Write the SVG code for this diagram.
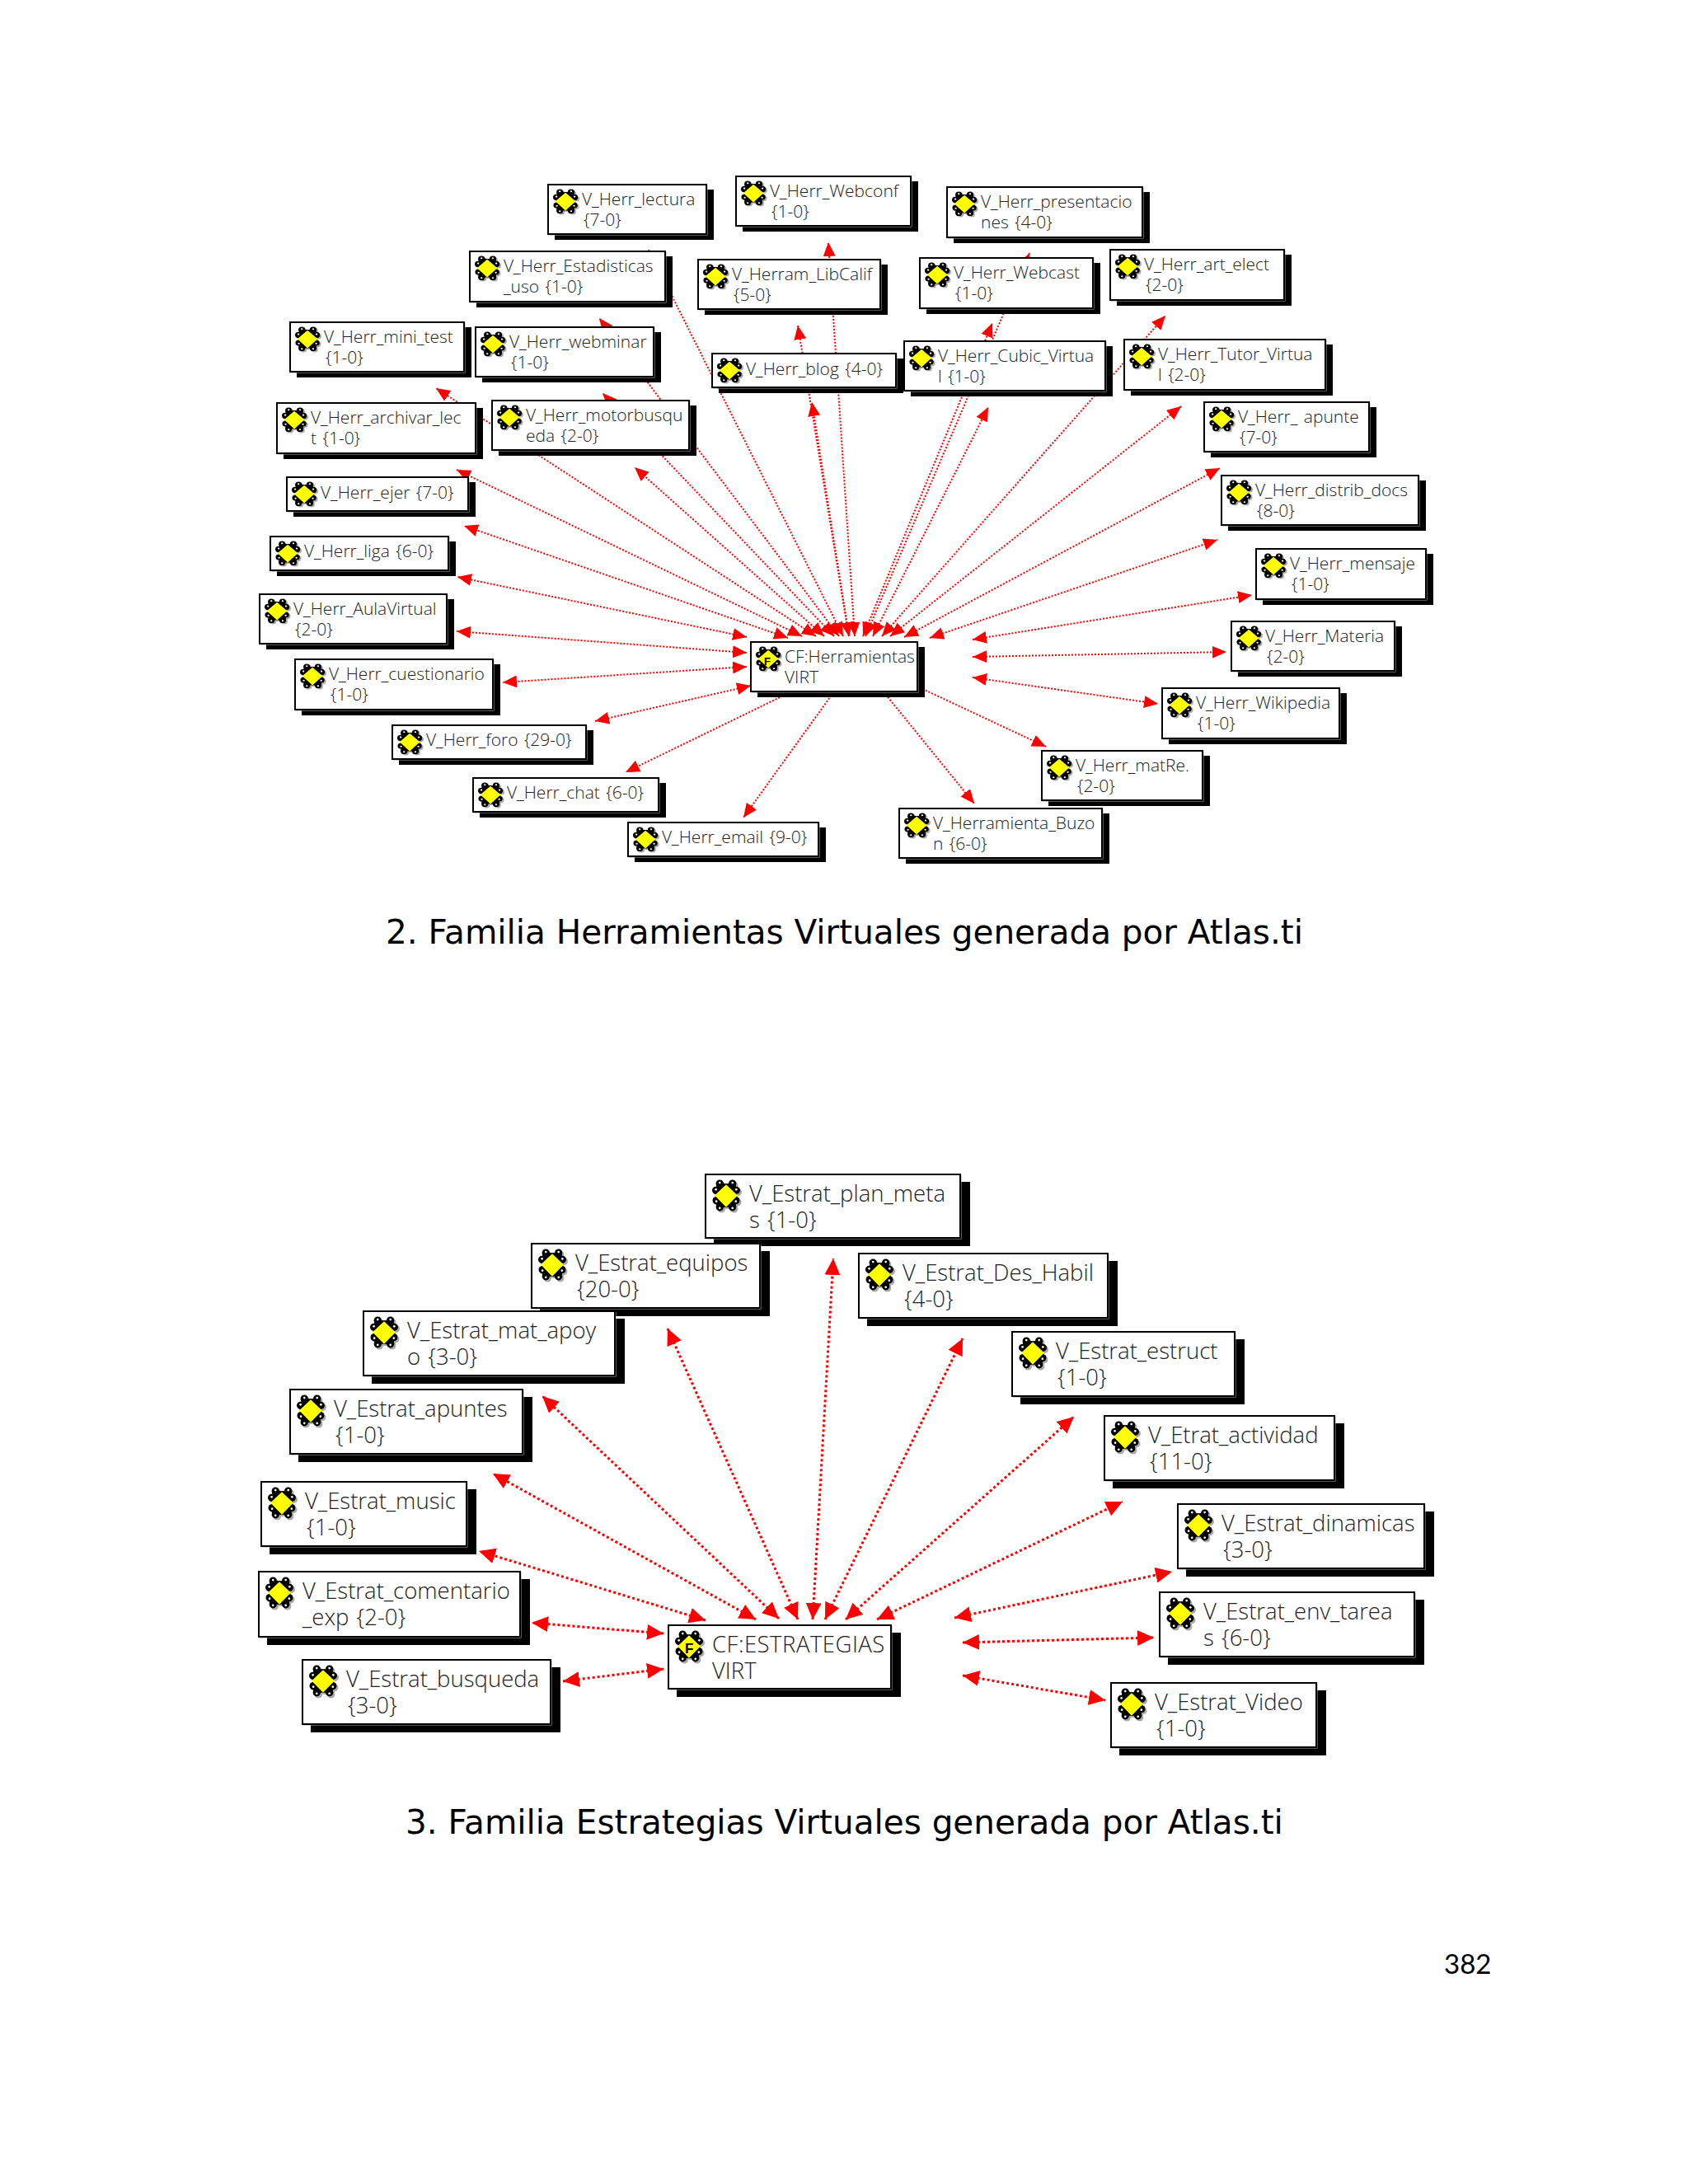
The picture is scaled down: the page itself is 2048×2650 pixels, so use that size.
<svg xmlns="http://www.w3.org/2000/svg" width="2048" height="2650" viewBox="0 0 2048 2650">
<style>
text{fill:#222;font-family:"Open Sans","Noto Sans","Liberation Sans",sans-serif;font-weight:300}
.t1{font-size:21px;word-spacing:2px}.t2{font-size:27.5px;word-spacing:2px}
.cap{font-family:"DejaVu Sans",sans-serif;font-size:40.5px;fill:#000;font-weight:400;word-spacing:0}
.pg{font-family:Lato,"Liberation Sans",sans-serif;font-size:33px;fill:#000;font-weight:400}
.s{fill:#000}.g{fill:#fff;stroke:#aaa;stroke-width:1}.b{fill:#fff;stroke:#000;stroke-width:2}
.f{font-family:"Liberation Sans",sans-serif;font-weight:700;fill:#000}
line{stroke:#f00;fill:none}
.l1{stroke-width:2;stroke-dasharray:2 2;marker-start:url(#a1);marker-end:url(#a1)}
.l2{stroke-width:3;stroke-dasharray:3 3;marker-start:url(#a2);marker-end:url(#a2)}
</style>
<defs>
<marker id="a1" markerUnits="userSpaceOnUse" markerWidth="18" markerHeight="16" refX="17" refY="7.5" orient="auto-start-reverse"><path d="M0 0L17 7.5L0 15Z" fill="#f00"/></marker>
<marker id="a2" markerUnits="userSpaceOnUse" markerWidth="21" markerHeight="20" refX="20" refY="9.5" orient="auto-start-reverse"><path d="M0 0L20 9.5L0 19Z" fill="#f00"/></marker>
<g id="bl">
<circle cx="9" cy="5" r="4.5"/><circle cx="24" cy="5" r="4.5"/><circle cx="4.5" cy="13" r="4.5"/><circle cx="28.5" cy="13" r="4.5"/><circle cx="5" cy="25" r="4.5"/><circle cx="28" cy="25" r="4.5"/><circle cx="9" cy="33" r="4.5"/><circle cx="24" cy="33" r="4.5"/><rect x="5" y="5" width="23" height="28"/>
</g>
<g id="ic">
<use href="#bl" x="2" y="2" fill="#aaa"/>
<use href="#bl" fill="#000"/>
<g fill="#fff"><circle cx="9" cy="4" r="1.3"/><circle cx="24" cy="4" r="1.3"/><circle cx="4.5" cy="12" r="1.3"/><circle cx="28.5" cy="12" r="1.3"/><circle cx="5" cy="26" r="1.3"/><circle cx="28" cy="26" r="1.3"/><circle cx="9" cy="34" r="1.3"/><circle cx="24" cy="34" r="1.3"/></g>
<path d="M16.5 6L30 19L16.5 33L3 19Z" fill="#ff0"/>
</g>
<symbol id="i1" viewBox="0 0 35 40" width="32" height="32" preserveAspectRatio="none"><use href="#ic"/></symbol>
<symbol id="i2" viewBox="0 0 35 40" width="36" height="41" preserveAspectRatio="none"><use href="#ic"/></symbol>
</defs>
<rect width="2048" height="2650" fill="#fff"/>
<g id="connectors">
<line class="l1" x1="1023" y1="772" x2="787" y2="303"/>
<line class="l1" x1="1037" y1="772" x2="1005" y2="294"/>
<line class="l1" x1="1050" y1="772" x2="1249" y2="307"/>
<line class="l1" x1="1018" y1="772" x2="727" y2="386"/>
<line class="l1" x1="1030" y1="772" x2="968" y2="395"/>
<line class="l1" x1="1047" y1="772" x2="1204" y2="392"/>
<line class="l1" x1="1070" y1="772" x2="1414" y2="383"/>
<line class="l1" x1="1012" y1="772" x2="731" y2="477"/>
<line class="l1" x1="1030" y1="772" x2="985" y2="488"/>
<line class="l1" x1="1059" y1="772" x2="1199" y2="494"/>
<line class="l1" x1="1080" y1="772" x2="1433" y2="493"/>
<line class="l1" x1="990" y1="772" x2="529" y2="471"/>
<line class="l1" x1="1000" y1="772" x2="770" y2="567"/>
<line class="l1" x1="1097" y1="773" x2="1480" y2="568"/>
<line class="l1" x1="973" y1="772" x2="554" y2="570"/>
<line class="l1" x1="956" y1="774" x2="563" y2="638"/>
<line class="l1" x1="906" y1="773" x2="555" y2="700"/>
<line class="l1" x1="906" y1="792" x2="554" y2="766"/>
<line class="l1" x1="906" y1="809" x2="610" y2="828"/>
<line class="l1" x1="911" y1="832" x2="722" y2="875"/>
<line class="l1" x1="1000" y1="820" x2="759" y2="937"/>
<line class="l1" x1="1025" y1="821" x2="902" y2="992"/>
<line class="l1" x1="1057" y1="821" x2="1182" y2="975"/>
<line class="l1" x1="1083" y1="819" x2="1269" y2="906"/>
<line class="l1" x1="1180" y1="822" x2="1405" y2="854"/>
<line class="l1" x1="1180" y1="797" x2="1488" y2="791"/>
<line class="l1" x1="1180" y1="776" x2="1519" y2="722"/>
<line class="l1" x1="1128" y1="774" x2="1477" y2="655"/>
<line class="l2" x1="986" y1="1965" x2="1011" y2="1527"/>
<line class="l2" x1="968" y1="1965" x2="810" y2="1612"/>
<line class="l2" x1="945" y1="1964" x2="658" y2="1694"/>
<line class="l2" x1="917" y1="1965" x2="598" y2="1788"/>
<line class="l2" x1="856" y1="1966" x2="581" y2="1882"/>
<line class="l2" x1="805" y1="1982" x2="645" y2="1969"/>
<line class="l2" x1="805" y1="2025" x2="683" y2="2040"/>
<line class="l2" x1="1001" y1="1965" x2="1168" y2="1624"/>
<line class="l2" x1="1026" y1="1965" x2="1303" y2="1719"/>
<line class="l2" x1="1064" y1="1965" x2="1362" y2="1822"/>
<line class="l2" x1="1158" y1="1963" x2="1422" y2="1907"/>
<line class="l2" x1="1168" y1="1993" x2="1400" y2="1987"/>
<line class="l2" x1="1168" y1="2033" x2="1341" y2="2063"/>
</g>
<g id="n-lectura"><rect class="s" x="673" y="230" width="193" height="61"/><rect class="g" x="666" y="225" width="192" height="60"/><rect class="b" x="665" y="224" width="192" height="60"/><use href="#i1" x="671" y="229"/><text class="t1" x="706" y="249">V_Herr_lectura</text><text class="t1" x="708" y="274">{7-0}</text></g>
<g id="n-webconf"><rect class="s" x="901" y="220" width="213" height="61"/><rect class="g" x="894" y="215" width="212" height="60"/><rect class="b" x="893" y="214" width="212" height="60"/><use href="#i1" x="899" y="219"/><text class="t1" x="934" y="239">V_Herr_Webconf</text><text class="t1" x="936" y="264">{1-0}</text></g>
<g id="n-presentaciones"><rect class="s" x="1157" y="233" width="238" height="62"/><rect class="g" x="1150" y="228" width="237" height="61"/><rect class="b" x="1149" y="227" width="237" height="61"/><use href="#i1" x="1155" y="232"/><text class="t1" x="1190" y="252">V_Herr_presentacio</text><text class="t1" x="1190" y="277">nes {4-0}</text></g>
<g id="n-estadisticas"><rect class="s" x="578" y="311" width="238" height="62"/><rect class="g" x="571" y="306" width="237" height="61"/><rect class="b" x="570" y="305" width="237" height="61"/><use href="#i1" x="576" y="310"/><text class="t1" x="611" y="330">V_Herr_Estadisticas</text><text class="t1" x="611" y="355">_uso {1-0}</text></g>
<g id="n-libcalif"><rect class="s" x="855" y="321" width="222" height="61"/><rect class="g" x="848" y="316" width="221" height="60"/><rect class="b" x="847" y="315" width="221" height="60"/><use href="#i1" x="853" y="320"/><text class="t1" x="888" y="340">V_Herram_LibCalif</text><text class="t1" x="890" y="365">{5-0}</text></g>
<g id="n-webcast"><rect class="s" x="1124" y="319" width="211" height="62"/><rect class="g" x="1117" y="314" width="210" height="61"/><rect class="b" x="1116" y="313" width="210" height="61"/><use href="#i1" x="1122" y="318"/><text class="t1" x="1157" y="338">V_Herr_Webcast</text><text class="t1" x="1159" y="363">{1-0}</text></g>
<g id="n-art_elect"><rect class="s" x="1355" y="309" width="212" height="62"/><rect class="g" x="1348" y="304" width="211" height="61"/><rect class="b" x="1347" y="303" width="211" height="61"/><use href="#i1" x="1353" y="308"/><text class="t1" x="1388" y="328">V_Herr_art_elect</text><text class="t1" x="1390" y="353">{2-0}</text></g>
<g id="n-mini_test"><rect class="s" x="360" y="397" width="212" height="61"/><rect class="g" x="353" y="392" width="211" height="60"/><rect class="b" x="352" y="391" width="211" height="60"/><use href="#i1" x="358" y="396"/><text class="t1" x="393" y="416">V_Herr_mini_test</text><text class="t1" x="395" y="441">{1-0}</text></g>
<g id="n-webminar"><rect class="s" x="585" y="403" width="217" height="61"/><rect class="g" x="578" y="398" width="216" height="60"/><rect class="b" x="577" y="397" width="216" height="60"/><use href="#i1" x="583" y="402"/><text class="t1" x="618" y="422">V_Herr_webminar</text><text class="t1" x="620" y="447">{1-0}</text></g>
<g id="n-blog"><rect class="s" x="872" y="435" width="224" height="42"/><rect class="g" x="865" y="430" width="223" height="41"/><rect class="b" x="864" y="429" width="223" height="41"/><use href="#i1" x="870" y="434"/><text class="t1" x="905" y="455">V_Herr_blog {4-0}</text></g>
<g id="n-cubic"><rect class="s" x="1105" y="420" width="245" height="61"/><rect class="g" x="1098" y="415" width="244" height="60"/><rect class="b" x="1097" y="414" width="244" height="60"/><use href="#i1" x="1103" y="419"/><text class="t1" x="1138" y="439">V_Herr_Cubic_Virtua</text><text class="t1" x="1138" y="464">l {1-0}</text></g>
<g id="n-tutor"><rect class="s" x="1372" y="418" width="245" height="62"/><rect class="g" x="1365" y="413" width="244" height="61"/><rect class="b" x="1364" y="412" width="244" height="61"/><use href="#i1" x="1370" y="417"/><text class="t1" x="1405" y="437">V_Herr_Tutor_Virtua</text><text class="t1" x="1405" y="462">l {2-0}</text></g>
<g id="n-archivar"><rect class="s" x="344" y="495" width="242" height="62"/><rect class="g" x="337" y="490" width="241" height="61"/><rect class="b" x="336" y="489" width="241" height="61"/><use href="#i1" x="342" y="494"/><text class="t1" x="377" y="514">V_Herr_archivar_lec</text><text class="t1" x="377" y="539">t {1-0}</text></g>
<g id="n-motorbusqueda"><rect class="s" x="605" y="492" width="240" height="61"/><rect class="g" x="598" y="487" width="239" height="60"/><rect class="b" x="597" y="486" width="239" height="60"/><use href="#i1" x="603" y="491"/><text class="t1" x="638" y="511">V_Herr_motorbusqu</text><text class="t1" x="638" y="536">eda {2-0}</text></g>
<g id="n-apunte"><rect class="s" x="1469" y="494" width="201" height="61"/><rect class="g" x="1462" y="489" width="200" height="60"/><rect class="b" x="1461" y="488" width="200" height="60"/><use href="#i1" x="1467" y="493"/><text class="t1" x="1502" y="513">V_Herr_ apunte</text><text class="t1" x="1504" y="538">{7-0}</text></g>
<g id="n-distrib"><rect class="s" x="1490" y="583" width="240" height="61"/><rect class="g" x="1483" y="578" width="239" height="60"/><rect class="b" x="1482" y="577" width="239" height="60"/><use href="#i1" x="1488" y="582"/><text class="t1" x="1523" y="602">V_Herr_distrib_docs</text><text class="t1" x="1525" y="627">{8-0}</text></g>
<g id="n-ejer"><rect class="s" x="356" y="585" width="221" height="42"/><rect class="g" x="349" y="580" width="220" height="41"/><rect class="b" x="348" y="579" width="220" height="41"/><use href="#i1" x="354" y="584"/><text class="t1" x="389" y="605">V_Herr_ejer {7-0}</text></g>
<g id="n-liga"><rect class="s" x="336" y="657" width="217" height="42"/><rect class="g" x="329" y="652" width="216" height="41"/><rect class="b" x="328" y="651" width="216" height="41"/><use href="#i1" x="334" y="656"/><text class="t1" x="369" y="676">V_Herr_liga {6-0}</text></g>
<g id="n-aula"><rect class="s" x="323" y="727" width="228" height="61"/><rect class="g" x="316" y="722" width="227" height="60"/><rect class="b" x="315" y="721" width="227" height="60"/><use href="#i1" x="321" y="726"/><text class="t1" x="356" y="746">V_Herr_AulaVirtual</text><text class="t1" x="358" y="771">{2-0}</text></g>
<g id="n-cuestionario"><rect class="s" x="366" y="806" width="241" height="62"/><rect class="g" x="359" y="801" width="240" height="61"/><rect class="b" x="358" y="800" width="240" height="61"/><use href="#i1" x="364" y="805"/><text class="t1" x="399" y="825">V_Herr_cuestionario</text><text class="t1" x="401" y="850">{1-0}</text></g>
<g id="n-foro"><rect class="s" x="484" y="886" width="236" height="42"/><rect class="g" x="477" y="881" width="235" height="41"/><rect class="b" x="476" y="880" width="235" height="41"/><use href="#i1" x="482" y="885"/><text class="t1" x="517" y="905">V_Herr_foro {29-0}</text></g>
<g id="n-chat"><rect class="s" x="582" y="950" width="226" height="42"/><rect class="g" x="575" y="945" width="225" height="41"/><rect class="b" x="574" y="944" width="225" height="41"/><use href="#i1" x="580" y="949"/><text class="t1" x="615" y="969">V_Herr_chat {6-0}</text></g>
<g id="n-email"><rect class="s" x="770" y="1004" width="232" height="42"/><rect class="g" x="763" y="999" width="231" height="41"/><rect class="b" x="762" y="998" width="231" height="41"/><use href="#i1" x="768" y="1003"/><text class="t1" x="803" y="1023">V_Herr_email {9-0}</text></g>
<g id="n-cf-herramientas"><rect class="s" x="919" y="785" width="203" height="61"/><rect class="g" x="912" y="780" width="202" height="60"/><rect class="b" x="911" y="779" width="202" height="60"/><use href="#i1" x="917" y="784"/><text class="f" x="927" y="807" font-size="13">F</text><text class="t1" x="952" y="804">CF:Herramientas</text><text class="t1" x="952" y="829">VIRT</text></g>
<g id="n-mensaje"><rect class="s" x="1532" y="672" width="207" height="62"/><rect class="g" x="1525" y="667" width="206" height="61"/><rect class="b" x="1524" y="666" width="206" height="61"/><use href="#i1" x="1530" y="671"/><text class="t1" x="1565" y="691">V_Herr_mensaje</text><text class="t1" x="1567" y="716">{1-0}</text></g>
<g id="n-materia"><rect class="s" x="1502" y="760" width="199" height="61"/><rect class="g" x="1495" y="755" width="198" height="60"/><rect class="b" x="1494" y="754" width="198" height="60"/><use href="#i1" x="1500" y="759"/><text class="t1" x="1535" y="779">V_Herr_Materia</text><text class="t1" x="1537" y="804">{2-0}</text></g>
<g id="n-wikipedia"><rect class="s" x="1418" y="841" width="216" height="62"/><rect class="g" x="1411" y="836" width="215" height="61"/><rect class="b" x="1410" y="835" width="215" height="61"/><use href="#i1" x="1416" y="840"/><text class="t1" x="1451" y="860">V_Herr_Wikipedia</text><text class="t1" x="1453" y="885">{1-0}</text></g>
<g id="n-matre"><rect class="s" x="1272" y="917" width="196" height="61"/><rect class="g" x="1265" y="912" width="195" height="60"/><rect class="b" x="1264" y="911" width="195" height="60"/><use href="#i1" x="1270" y="916"/><text class="t1" x="1305" y="936">V_Herr_matRe.</text><text class="t1" x="1307" y="961">{2-0}</text></g>
<g id="n-buzon"><rect class="s" x="1099" y="987" width="247" height="61"/><rect class="g" x="1092" y="982" width="246" height="60"/><rect class="b" x="1091" y="981" width="246" height="60"/><use href="#i1" x="1097" y="986"/><text class="t1" x="1132" y="1006">V_Herramienta_Buzo</text><text class="t1" x="1132" y="1031">n {6-0}</text></g>
<text id="caption-2" class="cap" x="468" y="1145">2. Familia Herramientas Virtuales generada por Atlas.ti</text>
<g id="n-plan_meta"><rect class="s" x="866" y="1434" width="311" height="78"/><rect class="g" x="857" y="1426" width="309" height="77"/><rect class="b" x="856" y="1425" width="309" height="77"/><use href="#i2" x="864" y="1431"/><text class="t2" x="909" y="1458">V_Estrat_plan_meta</text><text class="t2" x="909" y="1490">s {1-0}</text></g>
<g id="n-equipos"><rect class="s" x="655" y="1518" width="279" height="79"/><rect class="g" x="646" y="1510" width="277" height="78"/><rect class="b" x="645" y="1509" width="277" height="78"/><use href="#i2" x="653" y="1515"/><text class="t2" x="698" y="1542">V_Estrat_equipos</text><text class="t2" x="700" y="1574">{20-0}</text></g>
<g id="n-des_habil"><rect class="s" x="1052" y="1530" width="304" height="79"/><rect class="g" x="1043" y="1522" width="302" height="78"/><rect class="b" x="1042" y="1521" width="302" height="78"/><use href="#i2" x="1050" y="1527"/><text class="t2" x="1095" y="1554">V_Estrat_Des_Habil</text><text class="t2" x="1097" y="1586">{4-0}</text></g>
<g id="n-mat_apoy"><rect class="s" x="451" y="1600" width="307" height="79"/><rect class="g" x="442" y="1592" width="305" height="78"/><rect class="b" x="441" y="1591" width="305" height="78"/><use href="#i2" x="449" y="1597"/><text class="t2" x="494" y="1624">V_Estrat_mat_apoy</text><text class="t2" x="494" y="1656">o {3-0}</text></g>
<g id="n-estruct"><rect class="s" x="1238" y="1625" width="272" height="79"/><rect class="g" x="1229" y="1617" width="270" height="78"/><rect class="b" x="1228" y="1616" width="270" height="78"/><use href="#i2" x="1236" y="1622"/><text class="t2" x="1281" y="1649">V_Estrat_estruct</text><text class="t2" x="1283" y="1681">{1-0}</text></g>
<g id="n-apuntes"><rect class="s" x="362" y="1695" width="284" height="79"/><rect class="g" x="353" y="1687" width="282" height="78"/><rect class="b" x="352" y="1686" width="282" height="78"/><use href="#i2" x="360" y="1692"/><text class="t2" x="405" y="1719">V_Estrat_apuntes</text><text class="t2" x="407" y="1751">{1-0}</text></g>
<g id="n-actividad"><rect class="s" x="1350" y="1727" width="281" height="79"/><rect class="g" x="1341" y="1719" width="279" height="78"/><rect class="b" x="1340" y="1718" width="279" height="78"/><use href="#i2" x="1348" y="1724"/><text class="t2" x="1393" y="1751">V_Etrat_actividad</text><text class="t2" x="1395" y="1783">{11-0}</text></g>
<g id="n-music"><rect class="s" x="327" y="1807" width="251" height="79"/><rect class="g" x="318" y="1799" width="249" height="78"/><rect class="b" x="317" y="1798" width="249" height="78"/><use href="#i2" x="325" y="1804"/><text class="t2" x="370" y="1831">V_Estrat_music</text><text class="t2" x="372" y="1863">{1-0}</text></g>
<g id="n-dinamicas"><rect class="s" x="1439" y="1834" width="301" height="79"/><rect class="g" x="1430" y="1826" width="299" height="78"/><rect class="b" x="1429" y="1825" width="299" height="78"/><use href="#i2" x="1437" y="1831"/><text class="t2" x="1482" y="1858">V_Estrat_dinamicas</text><text class="t2" x="1484" y="1890">{3-0}</text></g>
<g id="n-comentario"><rect class="s" x="324" y="1916" width="319" height="80"/><rect class="g" x="315" y="1908" width="317" height="79"/><rect class="b" x="314" y="1907" width="317" height="79"/><use href="#i2" x="322" y="1913"/><text class="t2" x="367" y="1940">V_Estrat_comentario</text><text class="t2" x="367" y="1972">_exp {2-0}</text></g>
<g id="n-env_tarea"><rect class="s" x="1417" y="1941" width="311" height="79"/><rect class="g" x="1408" y="1933" width="309" height="78"/><rect class="b" x="1407" y="1932" width="309" height="78"/><use href="#i2" x="1415" y="1938"/><text class="t2" x="1460" y="1965">V_Estrat_env_tarea</text><text class="t2" x="1460" y="1997">s {6-0}</text></g>
<g id="n-cf-estrategias"><rect class="s" x="821" y="1981" width="272" height="78"/><rect class="g" x="812" y="1973" width="270" height="77"/><rect class="b" x="811" y="1972" width="270" height="77"/><use href="#i2" x="819" y="1978"/><text class="f" x="831" y="2006" font-size="17">F</text><text class="t2" x="864" y="2005" letter-spacing=".5">CF:ESTRATEGIAS</text><text class="t2" x="864" y="2037">VIRT</text></g>
<g id="n-busqueda"><rect class="s" x="377" y="2023" width="303" height="79"/><rect class="g" x="368" y="2015" width="301" height="78"/><rect class="b" x="367" y="2014" width="301" height="78"/><use href="#i2" x="375" y="2020"/><text class="t2" x="420" y="2047">V_Estrat_busqueda</text><text class="t2" x="422" y="2079">{3-0}</text></g>
<g id="n-video"><rect class="s" x="1358" y="2051" width="251" height="79"/><rect class="g" x="1349" y="2043" width="249" height="78"/><rect class="b" x="1348" y="2042" width="249" height="78"/><use href="#i2" x="1356" y="2048"/><text class="t2" x="1401" y="2075">V_Estrat_Video</text><text class="t2" x="1403" y="2107">{1-0}</text></g>
<text id="caption-3" class="cap" x="492" y="2225">3. Familia Estrategias Virtuales generada por Atlas.ti</text>
<text id="page" class="pg" x="1752" y="2395">382</text>
</svg>
